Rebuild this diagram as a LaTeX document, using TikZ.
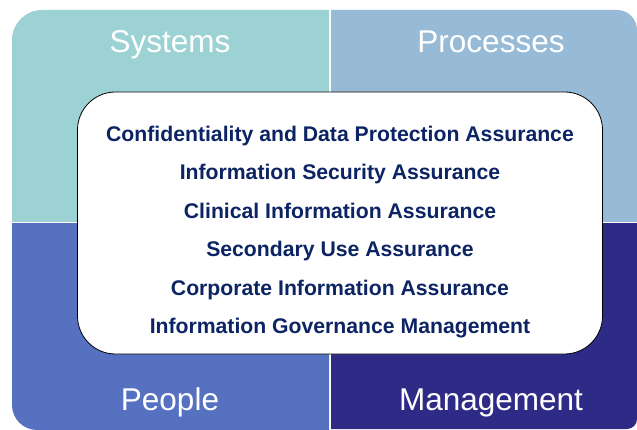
\documentclass[tikz,border=0pt]{standalone}
\usepackage{fontspec}
\setmainfont{Liberation Sans}
\definecolor{sysc}{HTML}{9DD2D5}
\definecolor{proc}{HTML}{97BBD6}
\definecolor{peoc}{HTML}{5571C0}
\definecolor{mgmc}{HTML}{2E2B86}
\definecolor{navy}{HTML}{0C2464}
\tikzset{
  quadlabel/.style={text=white, font=\fontsize{31.5}{33}\selectfont, inner sep=0pt, anchor=base},
  itemline/.style={text=navy, font=\bfseries\fontsize{21.2}{23}\selectfont, inner sep=0pt, anchor=base},
  centerbox/.style={draw=black, line width=0.8pt, fill=white, rounded corners=38pt, minimum width=525pt, minimum height=262pt, inner sep=0pt}
}
\begin{document}
\begin{tikzpicture}[x=1pt,y=-1pt]
\useasboundingbox (0,0) rectangle (637,430);
% quadrants
\begin{scope}
  \clip (12,10) rectangle (329,221.5);
  \fill[sysc, rounded corners=30pt] (12,10) rectangle (400,300);
\end{scope}
\begin{scope}
  \clip (331,10) rectangle (637,221.5);
  \fill[proc, rounded corners=20pt] (250,10) rectangle (637,300);
\end{scope}
\begin{scope}
  \clip (12,223.5) rectangle (329,430);
  \fill[peoc, rounded corners=25pt] (12,150) rectangle (400,430);
\end{scope}
\begin{scope}
  \clip (331,223.5) rectangle (637,429);
  \fill[mgmc, rounded corners=10pt] (250,150) rectangle (637,429);
\end{scope}
% labels
\node[quadlabel] (sys) at (170,53) {Systems};
\node[quadlabel] (pro) at (491,53) {Processes};
\node[quadlabel] (peo) at (170,410) {People};
\node[quadlabel] (man) at (491,410) {Management};
% centre box
\node[centerbox] (box) at (340,223) {};
\node[itemline] (l1) at (340,141.7) {Confidentiality and Data Protection Assurance};
\node[itemline] (l2) at (340,180) {Information Security Assurance};
\node[itemline] (l3) at (340,218.3) {Clinical Information Assurance};
\node[itemline] (l4) at (340,256.7) {Secondary Use Assurance};
\node[itemline] (l5) at (340,295) {Corporate Information Assurance};
\node[itemline] (l6) at (340,333.3) {Information Governance Management};
\end{tikzpicture}
\end{document}
